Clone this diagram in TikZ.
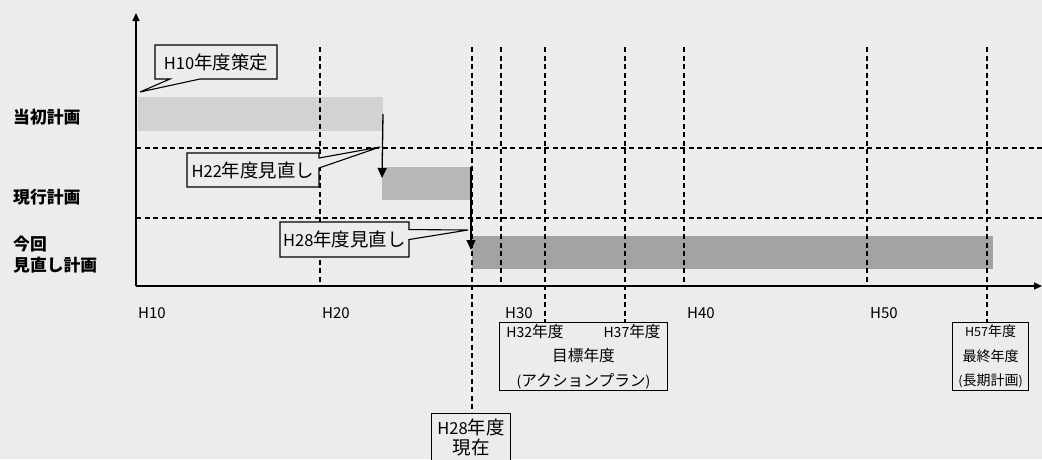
\documentclass[tikz,border=0pt]{standalone}
\usepackage{fontspec}
\setmainfont{Noto Sans CJK JP}
\newfontfamily\cjk[Scale=1.12]{Noto Sans CJK JP}
\usetikzlibrary{arrows.meta,shapes.callouts}
\definecolor{bg}{HTML}{ECECEC}
\definecolor{barA}{HTML}{D2D2D2}
\definecolor{barB}{HTML}{B8B8B8}
\definecolor{barC}{HTML}{A3A3A3}
\tikzset{
  bar/.style={draw=none,inner sep=0pt,outer sep=0pt,anchor=north west},
  grid/.style={line width=1.2pt,dash pattern=on 5pt off 3.5pt},
  axis/.style={line width=1.3pt},
  arr/.style={line width=1.3pt,-{Triangle[length=10pt,width=9pt]}},
  call/.style={rectangle callout,draw,line width=1.1pt,fill=bg,inner sep=0pt,
    font=\fontsize{16.5}{18}\selectfont},
  infobox/.style={draw,line width=1.1pt,fill=bg,inner sep=0pt,align=center},
  side/.style={anchor=west,font=\fontsize{15}{21}\selectfont\bfseries,align=left,inner sep=0pt},
  tick/.style={anchor=west,font=\fontsize{15}{18}\selectfont,inner sep=0pt}
}
\begin{document}
\begin{tikzpicture}[x=1pt,y=-1pt]
\useasboundingbox (0,0) rectangle (1042,459);
\clip (0,0) rectangle (1042,459);
\fill[bg] (0,0) rectangle (1042,459);

% bars
\node[bar,fill=barA,minimum width=245pt,minimum height=34pt] (bar1) at (138,97) {};
\node[bar,fill=barB,minimum width=89pt,minimum height=33pt] (bar2) at (382,167) {};
\node[bar,fill=barC,minimum width=521pt,minimum height=33pt] (bar3) at (472,236) {};

% grid lines
\draw[grid] (136,148) -- (1042,148);
\draw[grid] (136,218) -- (1042,218);
\foreach \x/\b in {320/286,472/413,501/286,545/322,625/322,684/286,867/286,987/322}
  \draw[grid] (\x,47) -- (\x,\b);

% axes
\coordinate (O) at (136,286);
\coordinate (ytop) at (136,13);
\coordinate (xend) at (1042,286);
\draw[axis,-{Triangle[length=8pt,width=7pt]}] (O) -- (ytop);
\draw[axis,-{Triangle[length=8pt,width=7pt]}] (O) -- (xend);

% revision arrows
\coordinate (a1e) at (382,178);
\coordinate (a2e) at (471,250);
\draw[arr] (bar1.east) -- (a1e);
\draw[arr] (bar2.north east) -- (a2e);

% callouts
\coordinate (p1) at (140,92);
\coordinate (p2) at (380,147);
\coordinate (p3) at (468,230);
\node[call,minimum width=122pt,minimum height=34pt,callout absolute pointer=(p1),
  callout pointer width=30pt] (c1) at (216,62) {H10{\cjk 年度策定}};
\node[call,minimum width=132pt,minimum height=34pt,callout absolute pointer=(p2),
  callout pointer width=10pt] (c2) at (253,170) {H22{\cjk 年度見直し}};
\node[call,minimum width=129pt,minimum height=35pt,callout absolute pointer=(p3),
  callout pointer width=10pt] (c3) at (344.5,239.5) {H28{\cjk 年度見直し}};

% side labels
\node[side] (l1) at (13,117) {\cjk 当初計画};
\node[side] (l2) at (13,197) {\cjk 現行計画};
\node[side] (l3) at (13,254.5) {\cjk 今回\\\cjk 見直し計画};

% tick labels
\node[tick] (t10) at (138,313) {H10};
\node[tick] (t20) at (322,313) {H20};
\node[tick] (t30) at (505,313) {H30};
\node[tick] (t40) at (687,313) {H40};
\node[tick] (t50) at (870,313) {H50};

% info boxes
\node[infobox,anchor=north west,minimum width=168pt,minimum height=68pt,
  font=\fontsize{14}{24.5}\selectfont] (b1) at (499,322)
  {H32{\cjk 年度}\hspace{40pt}H37{\cjk 年度}\\{\cjk 目標年度}\\({\cjk アクションプラン})};
\node[infobox,anchor=north west,minimum width=76pt,minimum height=68pt,
  font=\fontsize{12.5}{24.5}\selectfont] (b2) at (952,322)
  {H57{\cjk 年度}\\{\cjk 最終年度}\\({\cjk 長期計画})};
\node[infobox,anchor=north west,minimum width=79pt,minimum height=48pt,
  font=\fontsize{16.5}{19.5}\selectfont] (b3) at (431,413)
  {H28{\cjk 年度}\\{\cjk 現在}};
\end{tikzpicture}
\end{document}
